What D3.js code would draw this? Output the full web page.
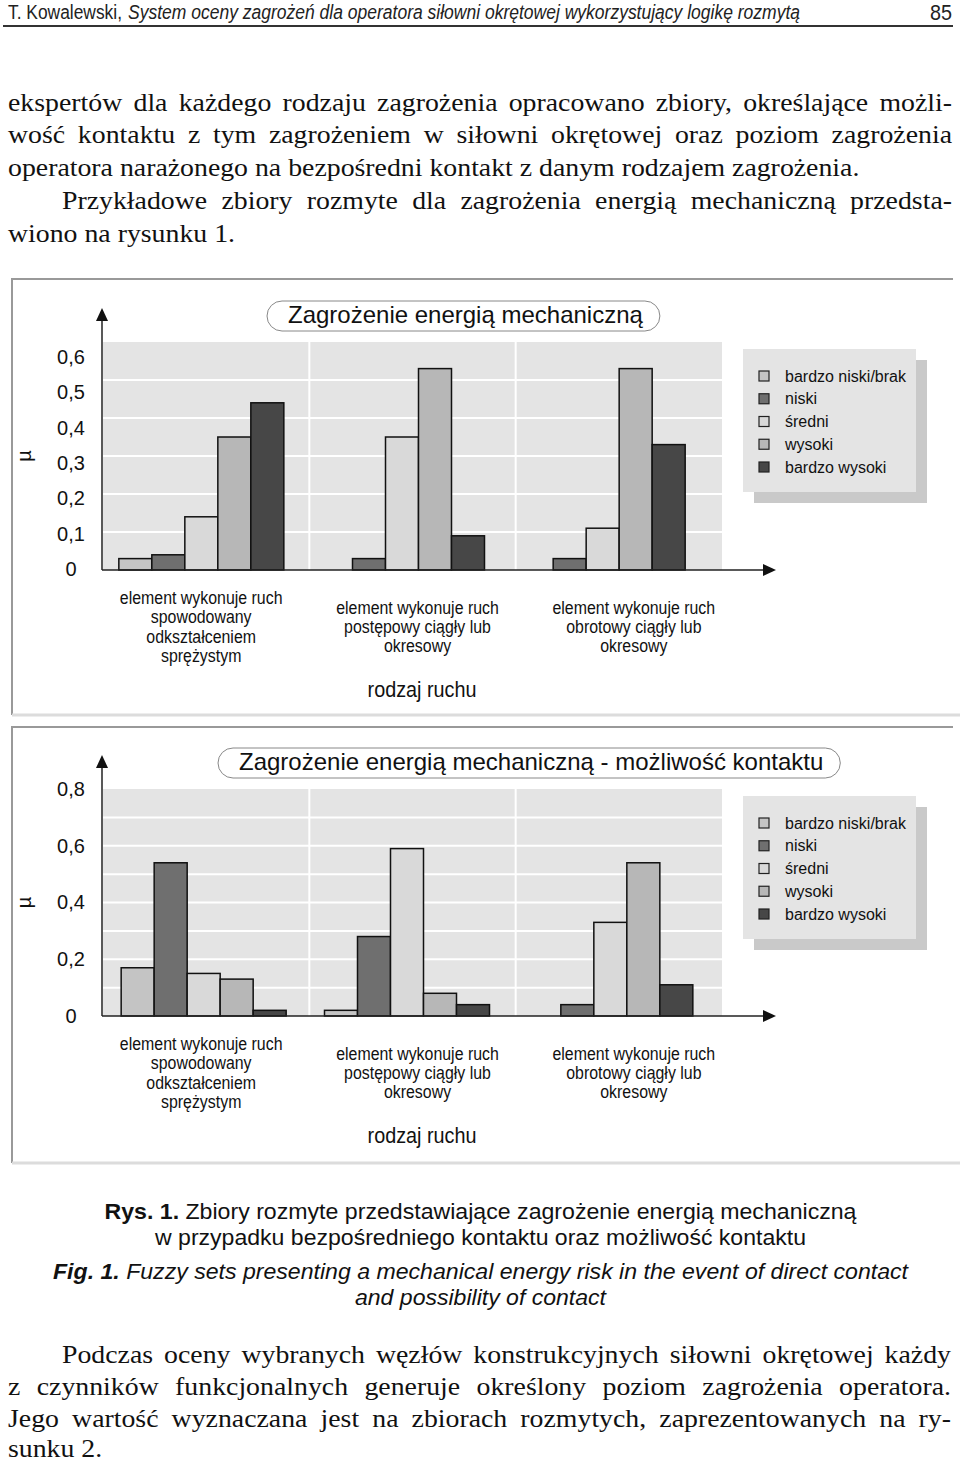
<!DOCTYPE html>
<html>
<head>
<meta charset="utf-8">
<script src="https://cdn.jsdelivr.net/npm/d3@7"></script>
<style>
  body { margin: 0; background: #fff; }
  svg { display: block; }
</style>
</head>
<body>
<div id="page"></div>
<script>
// ---- data ----
const levels = ["bardzo niski/brak", "niski", "średni", "wysoki", "bardzo wysoki"];
const levelColors = ["#c4c4c4", "#6f6f6f", "#d9d9d9", "#b7b7b7", "#474747"];
const motions = ["sprezysty", "postepowy", "obrotowy"];
const motionLabels = [
    ["element wykonuje ruch", "spowodowany", "odkształceniem", "sprężystym"],
    ["element wykonuje ruch", "postępowy ciągły lub", "okresowy"],
    ["element wykonuje ruch", "obrotowy ciągły lub", "okresowy"]
];
const directContact = [
    [0.03, 0.04, 0.14, 0.35, 0.44],
    [0, 0.03, 0.35, 0.53, 0.09],
    [0, 0.03, 0.11, 0.53, 0.33]
];
const possibleContact = [
    [0.17, 0.54, 0.15, 0.13, 0.02],
    [0.02, 0.28, 0.59, 0.08, 0.04],
    [0, 0.04, 0.33, 0.54, 0.11]
];
const directTicks = [0, 0.1, 0.2, 0.3, 0.4, 0.5, 0.6];
const possibleTicks = [0, 0.2, 0.4, 0.6, 0.8];
const gridValues = [0.1, 0.2, 0.3, 0.4, 0.5, 0.6, 0.7];

const W = 960, H = 1462;
const svg = d3.select("#page").append("svg")
    .attr("width", W).attr("height", H)
    .style("font-family", "'Liberation Sans', Arial, sans-serif");

const fmtTick = d => d === 0 ? "0" : d3.format(".1f")(d).replace(".", ",");

// ---- page header ----
svg.append("text")
    .attr("x", 8).attr("y", 19)
    .attr("font-size", 20).attr("fill", "#222")
    .attr("textLength", 114).attr("lengthAdjust", "spacingAndGlyphs")
    .text("T. Kowalewski,");
svg.append("text")
    .attr("x", 128).attr("y", 19)
    .attr("font-size", 20).attr("fill", "#222").attr("font-style", "italic")
    .attr("textLength", 672).attr("lengthAdjust", "spacingAndGlyphs")
    .text("System oceny zagrożeń dla operatora siłowni okrętowej wykorzystujący logikę rozmytą");
svg.append("text").attr("x", 952).attr("y", 20).attr("text-anchor", "end")
    .attr("font-size", 22).attr("fill", "#222")
    .attr("transform", "translate(952,0) scale(0.9,1) translate(-952,0)").text("85");
svg.append("line").attr("x1", 3).attr("x2", 953).attr("y1", 26).attr("y2", 26)
    .attr("stroke", "#333").attr("stroke-width", 2);

// ---- body paragraphs (justified by word spacing) ----
const bodyStretch = 1.07;
function bodyLines(lines) {
    lines.forEach(l => {
        const t = svg.append("text")
            .attr("transform", `translate(${l.x},${l.y}) scale(${bodyStretch},1)`)
            .style("font-family", "'Liberation Serif', 'Times New Roman', serif")
            .attr("font-size", 26).attr("fill", "#111")
            .text(l.text);
        if (l.w) {
            const natural = t.node().getComputedTextLength();
            const gaps = (l.text.match(/ /g) || []).length;
            if (gaps) t.attr("word-spacing", (l.w / bodyStretch - natural) / gaps);
        }
    });
}
bodyLines([
    { text: "ekspertów dla każdego rodzaju zagrożenia opracowano zbiory, określające możli-", x: 8, y: 111, w: 944 },
    { text: "wość kontaktu z tym zagrożeniem w siłowni okrętowej oraz poziom zagrożenia", x: 8, y: 143, w: 944 },
    { text: "operatora narażonego na bezpośredni kontakt z danym rodzajem zagrożenia.", x: 8, y: 176 },
    { text: "Przykładowe zbiory rozmyte dla zagrożenia energią mechaniczną przedsta-", x: 62, y: 209, w: 890 },
    { text: "wiono na rysunku 1.", x: 8, y: 242 },
    { text: "Podczas oceny wybranych węzłów konstrukcyjnych siłowni okrętowej każdy", x: 62, y: 1363, w: 889 },
    { text: "z czynników funkcjonalnych generuje określony poziom zagrożenia operatora.", x: 8, y: 1395, w: 943 },
    { text: "Jego wartość wyznaczana jest na zbiorach rozmytych, zaprezentowanych na ry-", x: 8, y: 1427, w: 943 },
    { text: "sunku 2.", x: 8, y: 1457 }
]);

// ---- one bar chart panel ----
function drawChart(cfg) {
    const g = svg.append("g");
    const left = 103, right = 722;

    // frame
    g.append("path")
        .attr("d", `M12,${cfg.frameBottom}V${cfg.frameTop}H953`)
        .attr("fill", "none").attr("stroke", "#999").attr("stroke-width", 2);
    g.append("line").attr("x1", 12).attr("x2", 960)
        .attr("y1", cfg.frameBottom).attr("y2", cfg.frameBottom)
        .attr("stroke", "#dcdcdc").attr("stroke-width", 3);

    const y = d3.scaleLinear().domain([0, cfg.yMax]).range([cfg.plotBottom, cfg.plotTop]);
    const yLabel = d3.scaleLinear().domain([0, cfg.yMax]).range(cfg.labelRange);
    const xGroup = d3.scalePoint().domain(motions).range(cfg.groupRange).padding(0.5);
    const xBar = d3.scaleBand().domain(levels).range([-82.5, 82.5]);
    const xLab = d3.scalePoint().domain(motions).range([93, 742]).padding(0.5);
    const colour = d3.scaleOrdinal().domain(levels).range(levelColors);

    // plot background + grid
    g.append("rect").attr("x", left).attr("y", cfg.plotTop)
        .attr("width", right - left).attr("height", cfg.plotBottom - cfg.plotTop)
        .attr("fill", "#e4e4e4");
    g.selectAll(".hgrid").data(gridValues.filter(v => v < cfg.yMax)).join("line")
        .attr("x1", left).attr("x2", right)
        .attr("y1", d => y(d)).attr("y2", d => y(d))
        .attr("stroke", "#fff").attr("stroke-width", 2);
    g.selectAll(".vgrid").data([1, 2]).join("line")
        .attr("x1", d => left + (right - left) * d / 3).attr("x2", d => left + (right - left) * d / 3)
        .attr("y1", cfg.plotTop).attr("y2", cfg.plotBottom)
        .attr("stroke", "#fff").attr("stroke-width", 2);

    // bars
    motions.forEach((m, i) => {
        const rows = levels.map((lv, j) => ({ level: lv, value: cfg.values[i][j] }))
            .filter(d => d.value > 0);
        g.append("g").selectAll("rect").data(rows).join("rect")
            .attr("x", d => xGroup(m) + xBar(d.level))
            .attr("y", d => y(d.value))
            .attr("width", xBar.bandwidth())
            .attr("height", d => y(0) - y(d.value))
            .attr("fill", d => colour(d.level))
            .attr("stroke", "#111").attr("stroke-width", 1.5);
    });

    // axes with arrows
    const tipY = cfg.plotTop - 34;
    g.append("line").attr("x1", 102).attr("x2", 102).attr("y1", cfg.plotBottom).attr("y2", tipY + 8)
        .attr("stroke", "#222").attr("stroke-width", 1.5);
    g.append("path").attr("d", `M102,${tipY}L96,${tipY + 13}L108,${tipY + 13}Z`).attr("fill", "#111");
    g.append("line").attr("x1", 102).attr("x2", 768).attr("y1", cfg.plotBottom).attr("y2", cfg.plotBottom)
        .attr("stroke", "#222").attr("stroke-width", 1.5);
    g.append("path").attr("d", `M776,${cfg.plotBottom}L763,${cfg.plotBottom - 6}L763,${cfg.plotBottom + 6}Z`)
        .attr("fill", "#111");

    // tick labels
    const ax = g.append("g").attr("transform", "translate(71,0)")
        .call(d3.axisLeft(yLabel).tickValues(cfg.ticks).tickSize(0).tickPadding(0).tickFormat(fmtTick));
    ax.select(".domain").remove();
    ax.attr("font-size", 20).attr("font-family", null);
    ax.selectAll("text").attr("x", 0).attr("text-anchor", "middle").attr("fill", "#111");

    // mu
    g.append("text")
        .attr("transform", `translate(31,${(cfg.plotTop + cfg.plotBottom) / 2}) rotate(-90)`)
        .attr("text-anchor", "middle").attr("font-size", 20).attr("fill", "#111").text("µ");

    // title box
    const tg = g.append("g");
    const tt = tg.append("text").attr("x", cfg.titleLeft + 21).attr("y", cfg.plotTop - 19)
        .attr("font-size", 24).attr("fill", "#111").text(cfg.title);
    const tw = tt.node().getComputedTextLength();
    tg.insert("rect", "text")
        .attr("x", cfg.titleLeft).attr("y", cfg.plotTop - 41)
        .attr("width", tw + 38).attr("height", 30)
        .attr("rx", 15).attr("ry", 15)
        .attr("fill", "#fff").attr("stroke", "#888").attr("stroke-width", 1);

    // legend
    const lg = g.append("g").attr("transform", `translate(743,${cfg.plotTop + 7})`);
    lg.append("rect").attr("x", 11).attr("y", 11).attr("width", 173).attr("height", 143).attr("fill", "#c9c9c9");
    lg.append("rect").attr("width", 173).attr("height", 143).attr("fill", "#e4e4e4");
    const rowsY = d3.scalePoint().domain(levels).range([27, 118]);
    lg.selectAll(".sw").data(levels).join("rect")
        .attr("x", 16).attr("y", d => rowsY(d) - 5)
        .attr("width", 10).attr("height", 10)
        .attr("fill", d => colour(d)).attr("stroke", "#222").attr("stroke-width", 1.2);
    lg.selectAll(".lt").data(levels).join("text")
        .attr("x", 42).attr("y", d => rowsY(d) + 5.5)
        .attr("font-size", 16).attr("fill", "#111").text(d => d);

    // category labels (narrow type)
    motions.forEach((m, i) => {
        const lines = motionLabels[i];
        const lh = 19.3;
        const top = cfg.plotBottom + 57 - (lines.length - 1) * lh / 2;
        const lt = g.append("g").attr("transform", `translate(${xLab(m)},0) scale(0.86,1)`);
        lt.selectAll("text").data(lines).join("text")
            .attr("x", 0).attr("y", (d, k) => top + k * lh + 6)
            .attr("text-anchor", "middle").attr("font-size", 18.5).attr("fill", "#111")
            .text(d => d);
    });
    g.append("text")
        .attr("transform", `translate(422,${cfg.plotBottom + 127}) scale(0.88,1)`)
        .attr("text-anchor", "middle").attr("font-size", 22.5).attr("fill", "#111")
        .text("rodzaj ruchu");
}

drawChart({
    values: directContact, yMax: 0.6, ticks: directTicks,
    title: "Zagrożenie energią mechaniczną",
    frameTop: 279, frameBottom: 715, plotTop: 342, plotBottom: 570,
    labelRange: [569, 357], groupRange: [101, 703], titleLeft: 267
});
drawChart({
    values: possibleContact, yMax: 0.8, ticks: possibleTicks,
    title: "Zagrożenie energią mechaniczną - możliwość kontaktu",
    frameTop: 727, frameBottom: 1163, plotTop: 789, plotBottom: 1016,
    labelRange: [1016, 789], groupRange: [102, 712], titleLeft: 218
});

// ---- caption ----
function caption(parts, y, w, italic) {
    const t = svg.append("text").attr("x", 480.5).attr("y", y)
        .attr("text-anchor", "middle").attr("font-size", 21.5).attr("fill", "#111")
        .attr("textLength", w).attr("lengthAdjust", "spacingAndGlyphs")
        .attr("font-style", italic ? "italic" : null);
    parts.forEach(p => t.append("tspan").attr("font-weight", p.bold ? "bold" : null).text(p.text));
}
caption([{ text: "Rys. 1.", bold: true }, { text: " Zbiory rozmyte przedstawiające zagrożenie energią mechaniczną" }], 1219, 752, false);
caption([{ text: "w przypadku bezpośredniego kontaktu oraz możliwość kontaktu" }], 1245, 651, false);
caption([{ text: "Fig. 1.", bold: true }, { text: " Fuzzy sets presenting a mechanical energy risk in the event of direct contact" }], 1279, 855, true);
caption([{ text: "and possibility of contact" }], 1305, 251, true);
</script>
</body>
</html>
